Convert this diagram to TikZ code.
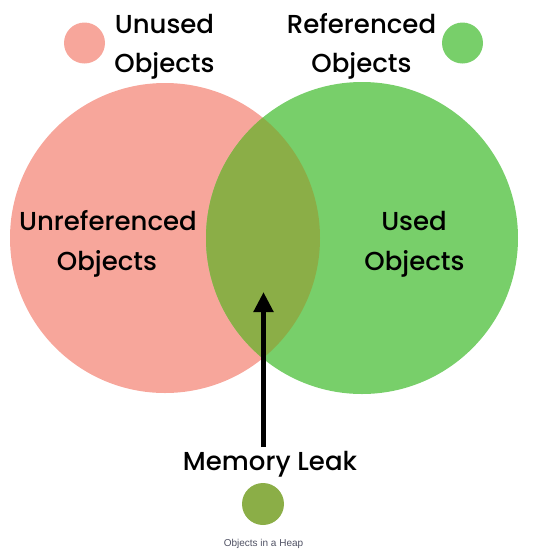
\documentclass[tikz,border=0pt]{standalone}
\usepackage{fontspec}
\setmainfont{Poppins}[UprightFont=* Medium]
\newfontfamily\smallfont{Liberation Sans}
\usetikzlibrary{arrows.meta}
\definecolor{pinkc}{RGB}{247,166,155}
\definecolor{greenc}{RGB}{120,207,106}
\definecolor{olivec}{RGB}{139,174,71}
\definecolor{greyc}{RGB}{80,82,100}
\tikzset{
  lbl/.style={anchor=base, inner sep=0pt, font=\fontsize{26}{30}\selectfont, text=black},
  dot/.style={circle, inner sep=0pt, minimum size=41pt},
}
\begin{document}
\begin{tikzpicture}[x=1pt,y=-1pt]
\useasboundingbox (0,0) rectangle (543,558);
% big circles
\fill[pinkc] (165,238) circle (155);
\fill[greenc] (362,238) circle (156);
\begin{scope}
  \clip (165,238) circle (155);
  \fill[olivec] (362,238) circle (156);
\end{scope}
% legend dots
\node[dot, fill=pinkc] (pinkdot) at (84.5,43) {};
\node[dot, fill=greenc] (greendot) at (462.5,43) {};
\node[dot, fill=olivec, minimum size=42pt] (olivedot) at (263,504) {};
% labels
\node[lbl] (unused1) at (164.5,33) {Unused};
\node[lbl] (unused2) at (164.5,72) {Objects};
\node[lbl] (ref1) at (361.5,33) {Referenced};
\node[lbl] (ref2) at (361.5,72) {Objects};
\node[lbl] (unref1) at (108,230) {Unreferenced};
\node[lbl] (unref2) at (107,270) {Objects};
\node[lbl] (used1) at (414,230) {Used};
\node[lbl] (used2) at (414.5,270) {Objects};
\node[lbl] (leak) at (270,470) {Memory Leak};
\node[anchor=base, inner sep=0pt, font=\smallfont\fontsize{10}{12}\selectfont, text=greyc] (heap) at (263.5,546) {Objects in a Heap};
% arrow
\coordinate (arrbase) at (263.5,447);
\coordinate (arrtip) at (263.5,292);
\draw[line width=5pt, -{Triangle[width=19pt,length=20pt]}] (arrbase) -- (arrtip);
\end{tikzpicture}
\end{document}
